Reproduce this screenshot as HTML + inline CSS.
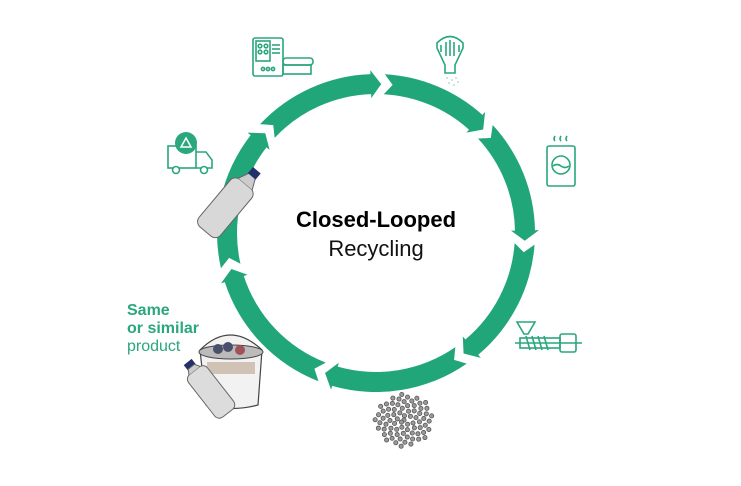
<!DOCTYPE html>
<html><head><meta charset="utf-8"><style>
html,body{margin:0;padding:0;background:#fff;}
body{width:741px;height:486px;overflow:hidden;position:relative;font-family:"Liberation Sans","DejaVu Sans",sans-serif;}
svg{position:absolute;left:0;top:0;}
</style></head><body>
<svg id="s" width="741" height="486" viewBox="0 0 741 486" xmlns="http://www.w3.org/2000/svg">
<g id="ring"></g>
<g fill="none" stroke="#2aa77c" stroke-width="1.6">
 <rect x="253" y="38" width="30" height="38" rx="2"/>
 <rect x="256" y="41" width="14" height="20"/>
 <circle cx="260" cy="46" r="1.8"/><circle cx="266" cy="46" r="1.8"/><circle cx="260" cy="52" r="1.8"/><circle cx="266" cy="52" r="1.8"/>
 <line x1="272" y1="45" x2="280" y2="45"/><line x1="272" y1="49" x2="280" y2="49"/><line x1="272" y1="53" x2="280" y2="53"/>
 <circle cx="263" cy="69" r="1.6"/><circle cx="268" cy="69" r="1.6"/><circle cx="273" cy="69" r="1.6"/>
 <rect x="283" y="58" width="30" height="7" rx="3"/>
 <rect x="283" y="65" width="28" height="9"/>
 <path d="M437 43 Q450 30 463 43 L463 48 L455 65 L455 73 L445 73 L445 65 L437 48 Z"/>
 <line x1="441" y1="45" x2="441" y2="52"/><line x1="446" y1="42" x2="446" y2="56"/><line x1="450" y1="40" x2="450" y2="56"/><line x1="454" y1="42" x2="454" y2="56"/><line x1="459" y1="45" x2="459" y2="52"/>
 <rect x="547" y="146" width="28" height="40" rx="2"/>
 <circle cx="561" cy="165" r="9"/>
 <path d="M553 166 q4 -3 8 0 t8 0"/>
 <path d="M555 136 q-2 3 0 5 M561 136 q-2 3 0 5 M567 136 q-2 3 0 5"/>
 <path d="M517 322 L535 322 L528 334 L524 334 Z"/>
 <rect x="520" y="338" width="40" height="10"/>
 <path d="M526 336 l4 14 M532 336 l4 14 M538 336 l4 14 M544 336 l4 14"/>
 <rect x="560" y="334" width="16" height="18" rx="2"/>
 <line x1="515" y1="343" x2="582" y2="343"/>
 <rect x="168" y="146" width="28" height="22"/>
 <path d="M196 152 L206 152 L212 160 L212 168 L196 168"/>
 <circle cx="176" cy="170" r="3.5" fill="#fff"/><circle cx="204" cy="170" r="3.5" fill="#fff"/>
</g>
<circle cx="186" cy="143" r="11" fill="#2aa77c"/>
<path d="M181 147 l5 -9 l5 9 z" fill="none" stroke="#fff" stroke-width="1.5"/>
<g fill="#9fd6c0"><circle cx="447" cy="78" r="0.9"/><circle cx="452" cy="80" r="0.9"/><circle cx="456" cy="78" r="0.9"/><circle cx="449" cy="83" r="0.9"/><circle cx="454" cy="85" r="0.9"/><circle cx="458" cy="82" r="0.9"/></g>
<g id="pellets" fill="#9a9a9a" stroke="#555" stroke-width="0.8"></g>
<g transform="translate(226,207) rotate(40)">
 <rect x="-14" y="-30" width="28" height="62" rx="7" fill="#d8d8d8" stroke="#666" stroke-width="1"/>
 <path d="M-9 -30 L-4 -41 L4 -41 L9 -30" fill="#ccc" stroke="#666"/>
 <rect x="-5" y="-48" width="10" height="8" fill="#23306b"/>
</g>
<g>
 <path d="M200 350 Q230 320 262 350 L258 405 Q232 412 206 405 Z" fill="#f2f2f2" stroke="#444" stroke-width="1.2"/>
 <ellipse cx="231" cy="352" rx="32" ry="7" fill="#bbb" stroke="#444"/>
 <circle cx="218" cy="349" r="5" fill="#4a4f6b"/><circle cx="228" cy="347" r="5" fill="#4a4f6b"/><circle cx="240" cy="350" r="5" fill="#a0525a"/>
 <rect x="207" y="362" width="48" height="12" fill="#b9a28b" opacity=".6"/>
</g>
<g transform="translate(208,388) rotate(-38)">
 <rect x="-12" y="-22" width="24" height="54" rx="6" fill="#dcdcdc" stroke="#666"/>
 <rect x="-5" y="-33" width="10" height="7" fill="#23306b"/>
 <path d="M-7 -22 L-4 -27 L4 -27 L7 -22" fill="#ccc" stroke="#666"/>
</g>
<text x="376" y="227" text-anchor="middle" font-size="22" font-weight="bold" fill="#000">Closed-Looped</text>
<text x="376" y="256" text-anchor="middle" font-size="22" fill="#111">Recycling</text>
<text x="127" y="315" font-size="16" font-weight="bold" fill="#2aa77c">Same</text>
<text x="127" y="333" font-size="16" font-weight="bold" fill="#2aa77c">or similar</text>
<text x="127" y="351" font-size="16" fill="#2aa77c">product</text>
</svg>
<script>
(function(){
 var NS="http://www.w3.org/2000/svg",g=document.getElementById("ring");
 var cx=376,cy=233,r=149,c="#21a67a";
 function P(a,rr){a=a*Math.PI/180;return [cx+rr*Math.cos(a),cy+rr*Math.sin(a)];}
 var tips=[-88,-44,3,54,110,166,222];
 var h=4,w=14,bw=10;
 for(var i=0;i<7;i++){
  var s=tips[i]+1.2, e=tips[(i+1)%7]; if(e<s) e+=360; e-=h;
  var p1=P(s,r+bw),p2=P(e,r+bw),p3=P(e,r-bw),p4=P(s,r-bw),pn=P(s+h*0.8,r);
  var d="M"+p1+" A"+(r+bw)+" "+(r+bw)+" 0 0 1 "+p2+" L"+P(e,r+w)+" L"+P(e+h,r)+" L"+P(e,r-w)+" L"+p3+
   " A"+(r-bw)+" "+(r-bw)+" 0 0 0 "+p4+" L"+pn+" Z";
  var pa=document.createElementNS(NS,"path");pa.setAttribute("d",d.replace(/,/g," "));pa.setAttribute("fill",c);g.appendChild(pa);
 }
 var pg=document.getElementById("pellets");
 for(var k=0;k<75;k++){
  var a=k*2.39996,rr=3.4*Math.sqrt(k);
  var x=404+rr*Math.cos(a)*1.0,y=420+rr*Math.sin(a)*0.9;
  var ci=document.createElementNS(NS,"circle");ci.setAttribute("cx",x);ci.setAttribute("cy",y);ci.setAttribute("r",2.1);pg.appendChild(ci);
 }
})();
</script>
</body></html>
